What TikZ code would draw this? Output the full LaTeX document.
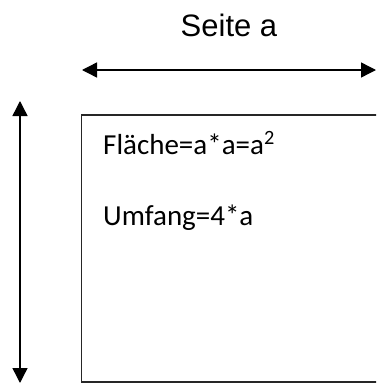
\documentclass[tikz,border=0pt]{standalone}
\usepackage{fontspec}
\usetikzlibrary{arrows.meta}
\newfontfamily\arialfont{Liberation Sans}
\newfontfamily\calibrifont{Carlito}
\tikzset{
    dimarrow/.style={line width=1.4pt, {Triangle[length=15pt,width=15pt]}-{Triangle[length=15pt,width=15pt]}},
    labeltext/.style={inner sep=0pt, font=\calibrifont\fontsize{29}{34}\selectfont}
}
\begin{document}
\begin{tikzpicture}[x=1pt,y=-1pt]
        % bounding box of the picture, the square runs off the page
        \useasboundingbox (0,0) rectangle (376,383);
        \clip (0,0) rectangle (376,383);
        % caption above the width arrow
        \node[anchor=base, inner sep=0pt, font=\arialfont\fontsize{31}{36}\selectfont] (title) at (229,36) {Seite a};
        % the width arrow
        \coordinate (wl) at (82,70);
        \coordinate (wr) at (376,70);
        \draw[dimarrow] (wl) -- (wr);
        % the height arrow
        \coordinate (ht) at (20,101);
        \coordinate (hb) at (20,383);
        \draw[dimarrow] (ht) -- (hb);
        % the square
        \draw[line width=1.3pt, black!85] (81.5,115) rectangle (420,382);
        \node[labeltext, anchor=base west] (area) at (103,154) {Fläche=a*a=a\textsuperscript{2}};
        \node[labeltext, anchor=base west] (perim) at (103,225) {Umfang=4*a};
    \end{tikzpicture}
\end{document}
